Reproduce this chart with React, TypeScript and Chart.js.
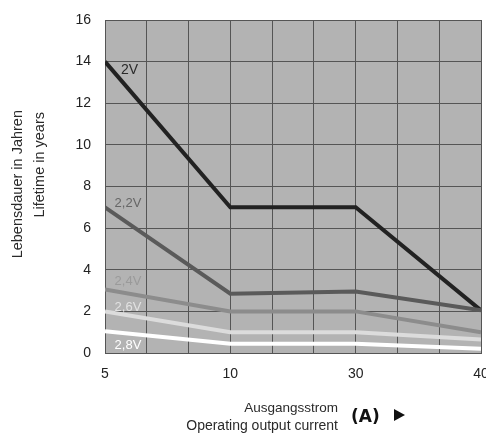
import React, { useEffect, useRef } from "react";
import { Chart, registerables } from "chart.js";

Chart.register(...registerables);

const currentLabels = ["5", "10", "30", "40"];
const currentPositions = [0, 3, 6, 9];
const yTicks = [0, 2, 4, 6, 8, 10, 12, 14, 16];

const series2V = [14, 7, 7, 2.05];
const series22V = [7, 2.85, 2.95, 2.05];
const series24V = [3.05, 2.0, 2.0, 1.0];
const series26V = [2.0, 1.0, 1.0, 0.65];
const series28V = [1.05, 0.45, 0.45, 0.2];

const seriesNames = ["2V", "2,2V", "2,4V", "2,6V", "2,8V"];
const seriesColors = ["#222222", "#5a5a5a", "#8c8c8c", "#dcdcdc", "#ffffff"];
const labelColors = ["#2a2a2a", "#666666", "#9a9a9a", "#e2e2e2", "#ffffff"];
const labelValues = [13.6, 7.2, 3.45, 2.2, 0.38];

export default function App() {
  const ref = useRef<HTMLCanvasElement>(null);

  useEffect(() => {
    const canvas = ref.current!;
    const allSeries = [series2V, series22V, series24V, series26V, series28V];

    const plugin = {
      id: "deco",
      beforeDraw(chart: any) {
        const { ctx, chartArea } = chart;
        ctx.save();
        ctx.fillStyle = "#b3b3b3";
        ctx.fillRect(chartArea.left, chartArea.top, chartArea.right - chartArea.left, chartArea.bottom - chartArea.top);
        ctx.restore();
      },
      afterDraw(chart: any) {
        const { ctx, scales } = chart;
        const xs = scales.x;
        const ys = scales.y;
        ctx.save();
        // series labels
        ctx.textBaseline = "middle";
        ctx.textAlign = "left";
        seriesNames.forEach((name, i) => {
          ctx.font = (i === 0 ? "14px" : "13px") + " 'Liberation Sans', Arial, sans-serif";
          ctx.fillStyle = labelColors[i];
          const px = xs.getPixelForValue(i === 0 ? 0.38 : 0.23);
          ctx.fillText(name, px, ys.getPixelForValue(labelValues[i]));
        });
        // y title
        ctx.fillStyle = "#2a2a2a";
        ctx.font = "14.5px 'Liberation Sans', Arial, sans-serif";
        ctx.textAlign = "right";
        ctx.textBaseline = "middle";
        ctx.save();
        ctx.translate(18, 110);
        ctx.rotate(-Math.PI / 2);
        ctx.fillText("Lebensdauer in Jahren", 0, 0);
        ctx.restore();
        ctx.save();
        ctx.translate(40, 112);
        ctx.rotate(-Math.PI / 2);
        ctx.fillText("Lifetime in years", 0, 0);
        ctx.restore();
        // x title
        ctx.textAlign = "right";
        ctx.textBaseline = "alphabetic";
        ctx.font = "13.5px 'Liberation Sans', Arial, sans-serif";
        ctx.fillText("Ausgangsstrom", 338, 412);
        ctx.font = "14px 'Liberation Sans', Arial, sans-serif";
        ctx.fillText("Operating output current", 338, 430);
        ctx.textAlign = "left";
        ctx.font = "bold 17px 'DejaVu Sans', sans-serif";
        ctx.fillStyle = "#111111";
        ctx.fillText("(A)", 351, 422);
        ctx.beginPath();
        ctx.moveTo(394, 409);
        ctx.lineTo(405, 415);
        ctx.lineTo(394, 421);
        ctx.closePath();
        ctx.fill();
        ctx.restore();
      },
    };

    const chart = new Chart(canvas, {
      type: "line",
      data: {
        datasets: allSeries.map((s, i) => ({
          label: seriesNames[i],
          data: s.map((v, j) => ({ x: currentPositions[j], y: v })),
          borderColor: seriesColors[i],
          borderWidth: 4,
          pointRadius: 0,
          tension: 0,
          fill: false,
          borderJoinStyle: "miter" as const,
        })).reverse(),
      },
      options: {
        responsive: false,
        animation: false,
        layout: { padding: { left: 0, right: 5, top: 20, bottom: 0 } },
        plugins: { legend: { display: false }, tooltip: { enabled: false } },
        scales: {
          x: {
            type: "linear",
            min: 0,
            max: 9,
            afterFit(scale: any) {
              scale.height = 80;
              scale.paddingLeft = 0;
              scale.paddingRight = 0;
            },
            afterBuildTicks(scale: any) {
              scale.ticks = Array.from({ length: 10 }, (_, i) => ({ value: i }));
            },
            grid: { color: "#555555", lineWidth: 1, drawTicks: false },
            border: { color: "#555555" },
            ticks: {
              padding: 13,
              color: "#222222",
              font: { size: 14, family: "'Liberation Sans', Arial, sans-serif" },
              autoSkip: false,
              maxRotation: 0,
              callback: (v: any) => {
                const idx = currentPositions.indexOf(Number(v));
                return idx >= 0 ? currentLabels[idx] : "";
              },
            },
          },
          y: {
            min: 0,
            max: 16,
            afterFit(scale: any) {
              scale.width = 105;
              scale.paddingTop = 0;
              scale.paddingBottom = 0;
            },
            afterBuildTicks(scale: any) {
              scale.ticks = yTicks.map((v) => ({ value: v }));
            },
            grid: { color: "#555555", lineWidth: 1, drawTicks: false },
            border: { color: "#555555" },
            ticks: {
              padding: 14,
              color: "#222222",
              font: { size: 14, family: "'Liberation Sans', Arial, sans-serif" },
            },
          },
        },
      },
      plugins: [plugin],
    });
    return () => chart.destroy();
  }, []);

  return (
    <div style={{ position: "fixed", left: 0, top: 0, width: 486, height: 433, background: "#fff" }}>
      <canvas ref={ref} width={486} height={433} style={{ display: "block" }} />
    </div>
  );
}
